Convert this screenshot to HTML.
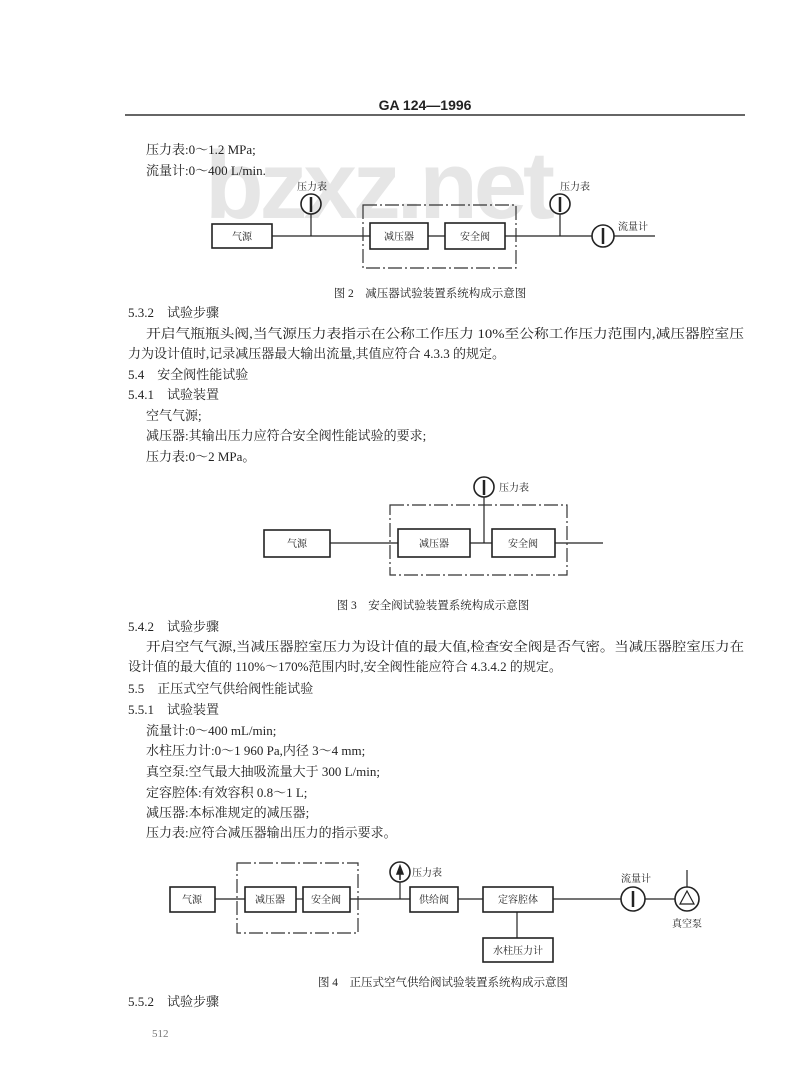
<!DOCTYPE html>
<html><head><meta charset="utf-8">
<style>
html,body{margin:0;padding:0;background:#fff;}
svg{display:block;}
text{font-family:"Liberation Serif","Noto Serif CJK SC",serif;fill:#222;}
.t{font-size:13px;}
.s{font-size:10px;}
.c{font-size:11.5px;}
.b{fill:none;stroke:#222;stroke-width:1.6;}
.l{stroke:#222;stroke-width:1.2;fill:none;}
.d{fill:none;stroke:#333;stroke-width:1.2;stroke-dasharray:14 3 2 3;}
</style></head><body>
<svg width="800" height="1080" viewBox="0 0 800 1080" xmlns="http://www.w3.org/2000/svg">
<rect width="800" height="1080" fill="#fff"/>
<text x="205" y="218" style="font-family:'Liberation Sans',sans-serif;font-weight:bold;font-size:96px;fill:#e6e6e6" textLength="350">bzxz.net</text>

<text x="425" y="110" text-anchor="middle" style="font-family:'Liberation Sans',sans-serif;font-size:14px;font-weight:bold">GA 124—1996</text>
<line x1="125" y1="115" x2="745" y2="115" stroke="#333" stroke-width="1.5"/>

<text class="t" x="146" y="154">压力表:0～1.2 MPa;</text>
<text class="t" x="146" y="175">流量计:0～400 L/min.</text>

<!-- Fig 2 -->
<line class="l" x1="272" y1="236" x2="370" y2="236"/>
<line class="l" x1="428" y1="236" x2="445" y2="236"/>
<line class="l" x1="505" y1="236" x2="592" y2="236"/>
<line class="l" x1="614" y1="236" x2="655" y2="236"/>
<line class="l" x1="311" y1="214" x2="311" y2="236"/>
<line class="l" x1="560" y1="214" x2="560" y2="236"/>
<rect class="b" x="212" y="224" width="60" height="24"/>
<rect class="d" x="363" y="205" width="153" height="63"/>
<rect class="b" x="370" y="223" width="58" height="26"/>
<rect class="b" x="445" y="223" width="60" height="26"/>
<text class="s" x="242" y="240" text-anchor="middle">气源</text>
<text class="s" x="399" y="240" text-anchor="middle">减压器</text>
<text class="s" x="475" y="240" text-anchor="middle">安全阀</text>
<circle class="b" cx="311" cy="204" r="10"/><line x1="311" y1="197" x2="311" y2="212" stroke="#222" stroke-width="2.5"/>
<circle class="b" cx="560" cy="204" r="10"/><line x1="560" y1="197" x2="560" y2="212" stroke="#222" stroke-width="2.5"/>
<circle class="b" cx="603" cy="236" r="11"/><line x1="603" y1="228" x2="603" y2="244" stroke="#222" stroke-width="2.5"/>
<text class="s" x="297" y="190">压力表</text>
<text class="s" x="560" y="190">压力表</text>
<text class="s" x="618" y="230">流量计</text>
<text class="c" x="430" y="297" text-anchor="middle">图 2　减压器试验装置系统构成示意图</text>

<text class="t" x="128" y="317">5.3.2　试验步骤</text>
<text class="t" x="146" y="338" textLength="598" lengthAdjust="spacingAndGlyphs">开启气瓶瓶头阀,当气源压力表指示在公称工作压力 10%至公称工作压力范围内,减压器腔室压</text>
<text class="t" x="128" y="358">力为设计值时,记录减压器最大输出流量,其值应符合 4.3.3 的规定。</text>
<text class="t" x="128" y="379">5.4　安全阀性能试验</text>
<text class="t" x="128" y="399">5.4.1　试验装置</text>
<text class="t" x="146" y="420">空气气源;</text>
<text class="t" x="146" y="440">减压器:其输出压力应符合安全阀性能试验的要求;</text>
<text class="t" x="146" y="461">压力表:0～2 MPa。</text>

<!-- Fig 3 -->
<line class="l" x1="330" y1="543" x2="398" y2="543"/>
<line class="l" x1="470" y1="543" x2="492" y2="543"/>
<line class="l" x1="555" y1="543" x2="603" y2="543"/>
<line class="l" x1="484" y1="497" x2="484" y2="543"/>
<rect class="d" x="390" y="505" width="177" height="70"/>
<rect class="b" x="264" y="530" width="66" height="27"/>
<rect class="b" x="398" y="529" width="72" height="28"/>
<rect class="b" x="492" y="529" width="63" height="28"/>
<text class="s" x="297" y="547" text-anchor="middle">气源</text>
<text class="s" x="434" y="547" text-anchor="middle">减压器</text>
<text class="s" x="523" y="547" text-anchor="middle">安全阀</text>
<circle class="b" cx="484" cy="487" r="10"/><line x1="484" y1="480" x2="484" y2="495" stroke="#222" stroke-width="2.5"/>
<text class="s" x="499" y="491">压力表</text>
<text class="c" x="433" y="609" text-anchor="middle">图 3　安全阀试验装置系统构成示意图</text>

<text class="t" x="128" y="631">5.4.2　试验步骤</text>
<text class="t" x="146" y="651" textLength="598" lengthAdjust="spacingAndGlyphs">开启空气气源,当减压器腔室压力为设计值的最大值,检查安全阀是否气密。当减压器腔室压力在</text>
<text class="t" x="128" y="671">设计值的最大值的 110%～170%范围内时,安全阀性能应符合 4.3.4.2 的规定。</text>
<text class="t" x="128" y="693">5.5　正压式空气供给阀性能试验</text>
<text class="t" x="128" y="714">5.5.1　试验装置</text>
<text class="t" x="146" y="735">流量计:0～400 mL/min;</text>
<text class="t" x="146" y="755">水柱压力计:0～1 960 Pa,内径 3～4 mm;</text>
<text class="t" x="146" y="776">真空泵:空气最大抽吸流量大于 300 L/min;</text>
<text class="t" x="146" y="797">定容腔体:有效容积 0.8～1 L;</text>
<text class="t" x="146" y="817">减压器:本标准规定的减压器;</text>
<text class="t" x="146" y="837">压力表:应符合减压器输出压力的指示要求。</text>

<!-- Fig 4 -->
<line class="l" x1="215" y1="899" x2="245" y2="899"/>
<line class="l" x1="296" y1="899" x2="303" y2="899"/>
<line class="l" x1="350" y1="899" x2="410" y2="899"/>
<line class="l" x1="458" y1="899" x2="483" y2="899"/>
<line class="l" x1="553" y1="899" x2="621" y2="899"/>
<line class="l" x1="645" y1="899" x2="675" y2="899"/>
<line class="l" x1="400" y1="882" x2="400" y2="899"/>
<line class="l" x1="517" y1="912" x2="517" y2="938"/>
<line class="l" x1="687" y1="870" x2="687" y2="887"/>
<rect class="d" x="237" y="863" width="121" height="70"/>
<rect class="b" x="170" y="887" width="45" height="25"/>
<rect class="b" x="245" y="887" width="51" height="25"/>
<rect class="b" x="303" y="887" width="47" height="25"/>
<rect class="b" x="410" y="887" width="48" height="25"/>
<rect class="b" x="483" y="887" width="70" height="25"/>
<rect class="b" x="483" y="938" width="70" height="24"/>
<text class="s" x="192" y="903" text-anchor="middle">气源</text>
<text class="s" x="270" y="903" text-anchor="middle">减压器</text>
<text class="s" x="326" y="903" text-anchor="middle">安全阀</text>
<text class="s" x="434" y="903" text-anchor="middle">供给阀</text>
<text class="s" x="518" y="903" text-anchor="middle">定容腔体</text>
<text class="s" x="518" y="954" text-anchor="middle">水柱压力计</text>
<circle class="b" cx="400" cy="872" r="10"/><path d="M400 866 L403 874 L397 874 Z M400 872 V880" stroke="#222" stroke-width="1.5" fill="#222"/>
<text class="s" x="412" y="876">压力表</text>
<circle class="b" cx="633" cy="899" r="12"/><line x1="633" y1="891" x2="633" y2="907" stroke="#222" stroke-width="2.5"/>
<text class="s" x="621" y="882">流量计</text>
<circle class="b" cx="687" cy="899" r="12"/><path d="M687 891 L694 904 L680 904 Z" class="l"/>
<text class="s" x="672" y="927">真空泵</text>
<text class="c" x="443" y="986" text-anchor="middle">图 4　正压式空气供给阀试验装置系统构成示意图</text>

<text class="t" x="128" y="1006">5.5.2　试验步骤</text>
<text x="152" y="1037" style="font-size:11px;fill:#777">512</text>
</svg>
</body></html>
